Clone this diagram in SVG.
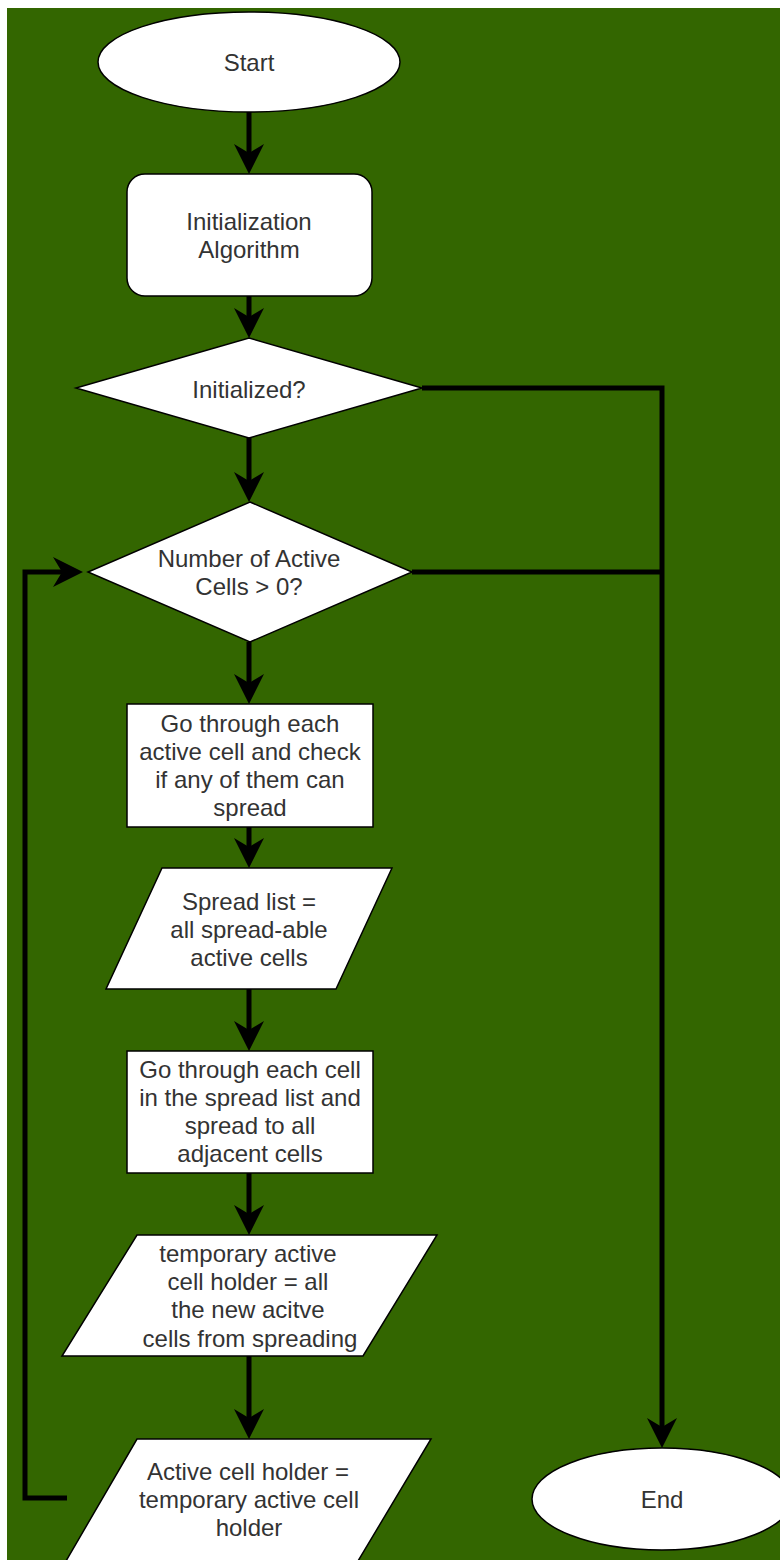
<svg xmlns="http://www.w3.org/2000/svg" width="780" height="1560" viewBox="0 0 780 1560">
  <style>
    .shape { fill: #ffffff; stroke: #000000; stroke-width: 1.5; }
    .label { font-family: "Liberation Sans", Arial, sans-serif; font-size: 24px; fill: #333333; text-anchor: middle; }
    .conn { fill: none; stroke: #000000; stroke-width: 5; stroke-linejoin: miter; }
    .arrow { marker-end: url(#arrowhead); }
  </style>
  <defs>
    <marker id="arrowhead" viewBox="-30 -15 30 30" markerWidth="30" markerHeight="30" refX="-20" refY="0" orient="auto" markerUnits="userSpaceOnUse">
      <path d="M0,0 L-30,-15 L-21,0 L-30,15 Z" fill="#000000"/>
    </marker>
  </defs>
  <rect x="0" y="0" width="780" height="1560" fill="#ffffff"/>
  <rect x="7" y="8" width="773" height="1552" fill="#336600"/>

  <g id="connectors">
    <path class="conn arrow" d="M249,112 L249,154"/>
    <path class="conn arrow" d="M249,296 L249,318"/>
    <path class="conn arrow" d="M249,438 L249,482"/>
    <path class="conn arrow" d="M249,642 L249,684"/>
    <path class="conn arrow" d="M249,827 L249,848"/>
    <path class="conn arrow" d="M249,989 L249,1031"/>
    <path class="conn arrow" d="M249,1173 L249,1215"/>
    <path class="conn arrow" d="M249,1356 L249,1419"/>
    <path class="conn arrow" d="M422,388 L662,388 L662,1428"/>
    <path class="conn" d="M412,572 L662,572"/>
    <path class="conn arrow" d="M67,1498 L25,1498 L25,572 L63,572"/>
  </g>

  <g id="start">
    <ellipse class="shape" cx="249" cy="62" rx="151" ry="50"/>
    <text class="label" x="249" y="71">Start</text>
  </g>

  <g id="init-algorithm">
    <rect class="shape" x="127" y="174" width="245" height="122" rx="18" ry="18"/>
    <text class="label" x="249" y="230">Initialization</text>
    <text class="label" x="249" y="258">Algorithm</text>
  </g>

  <g id="initialized">
    <polygon class="shape" points="249,338 422,388 249,438 76,388"/>
    <text class="label" x="249" y="398">Initialized?</text>
  </g>

  <g id="active-cells-check">
    <polygon class="shape" points="250,502 412,572 250,642 88,572"/>
    <text class="label" x="249" y="567">Number of Active</text>
    <text class="label" x="249" y="595">Cells &gt; 0?</text>
  </g>

  <g id="check-spread">
    <rect class="shape" x="127" y="704" width="246" height="123"/>
    <text class="label" x="250" y="732">Go through each</text>
    <text class="label" x="250" y="760">active cell and check</text>
    <text class="label" x="250" y="788">if any of them can</text>
    <text class="label" x="250" y="816">spread</text>
  </g>

  <g id="spread-list">
    <polygon class="shape" points="162,868 392,868 336,989 106,989"/>
    <text class="label" x="249" y="910">Spread list =</text>
    <text class="label" x="249" y="938">all spread-able</text>
    <text class="label" x="249" y="966">active cells</text>
  </g>

  <g id="spread-cells">
    <rect class="shape" x="127" y="1051" width="246" height="122"/>
    <text class="label" x="250" y="1078">Go through each cell</text>
    <text class="label" x="250" y="1106">in the spread list and</text>
    <text class="label" x="250" y="1134">spread to all</text>
    <text class="label" x="250" y="1162">adjacent cells</text>
  </g>

  <g id="temp-holder">
    <polygon class="shape" points="137,1235 437,1235 363,1356 62,1356"/>
    <text class="label" x="248" y="1262">temporary active</text>
    <text class="label" x="248" y="1290">cell holder = all</text>
    <text class="label" x="248" y="1318">the new acitve</text>
    <text class="label" x="250" y="1347">cells from spreading</text>
  </g>

  <g id="active-holder">
    <polygon class="shape" points="137,1439 431,1439 358,1561 66,1561"/>
    <text class="label" x="248" y="1480">Active cell holder =</text>
    <text class="label" x="249" y="1508">temporary active cell</text>
    <text class="label" x="249" y="1536">holder</text>
  </g>

  <g id="end">
    <ellipse class="shape" cx="662" cy="1499" rx="130" ry="51"/>
    <text class="label" x="662" y="1508">End</text>
  </g>
</svg>
